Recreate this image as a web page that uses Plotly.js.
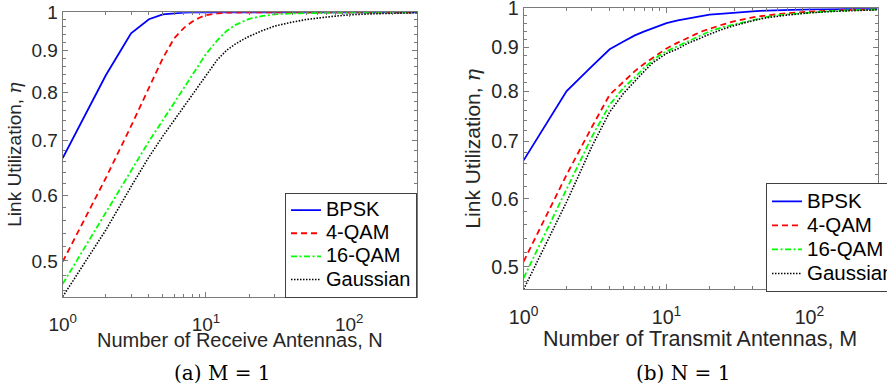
<!DOCTYPE html>
<html>
<head>
<meta charset="utf-8">
<script src="https://cdn.plot.ly/plotly-3.0.1.min.js"></script>
<style>
  html, body { margin: 0; padding: 0; overflow: hidden; background: #fff; }
  #wrap { width: 887px; height: 392px; overflow: hidden; }
  #chart { width: 900px; height: 392px; }
</style>
</head>
<body>
<div id="wrap"><div id="chart"></div></div>
<script>
// ---- data ----
const antennas = [1,2,3,4,5,6,7,8,9,10,12,14,16,18,20,25,30,40,50,70,100,150,200,300];
const seriesNames = ['BPSK','4-QAM','16-QAM','Gaussian'];

// (a) M = 1, x = N
const bpskA   = [0.666,0.839,0.943,0.981,0.994,0.998,0.9995,1,1,1,1,1,1,1,1,1,1,1,1,1,1,1,1,1];
const qam4A   = [0.499,0.630,0.728,0.812,0.880,0.930,0.957,0.974,0.985,0.992,0.997,0.999,1,1,1,1,1,1,1,1,1,1,1,1];
const qam16A  = [0.469,0.572,0.645,0.698,0.740,0.777,0.808,0.838,0.866,0.890,0.925,0.950,0.965,0.975,0.982,0.990,0.994,0.997,0.998,0.999,0.9995,1,1,1];
const gaussA  = [0.4525,0.545,0.615,0.668,0.708,0.740,0.768,0.793,0.817,0.840,0.876,0.900,0.915,0.926,0.935,0.951,0.962,0.973,0.980,0.987,0.993,0.996,0.998,0.999];

// (b) N = 1, x = M
const bpskB   = [0.665,0.801,0.856,0.896,0.915,0.930,0.940,0.948,0.955,0.961,0.968,0.973,0.977,0.980,0.983,0.986,0.989,0.992,0.994,0.996,0.997,0.998,0.999,0.9995];
const qam4B   = [0.507,0.640,0.727,0.793,0.821,0.845,0.862,0.876,0.888,0.898,0.912,0.924,0.933,0.941,0.947,0.958,0.966,0.976,0.981,0.987,0.991,0.994,0.996,0.997];
const qam16B  = [0.485,0.616,0.708,0.772,0.808,0.831,0.853,0.869,0.882,0.891,0.904,0.915,0.925,0.933,0.940,0.951,0.958,0.970,0.977,0.984,0.989,0.993,0.995,0.997];
const gaussB  = [0.4706,0.595,0.690,0.757,0.796,0.823,0.845,0.864,0.876,0.886,0.897,0.910,0.918,0.926,0.933,0.946,0.955,0.967,0.975,0.982,0.988,0.992,0.994,0.996];

const yTickVals = [0.5,0.6,0.7,0.8,0.9,1];
const yTickText = ['0.5','0.6','0.7','0.8','0.9','1'];
const xTickVals = [1,10,100];
const xTickText = ['10<sup>0</sup>','10<sup>1</sup>','10<sup>2</sup>'];
const xTitleA = 'Number of Receive Antennas, N';
const xTitleB = 'Number of Transmit Antennas, M';
const yTitle  = 'Link Utilization, <span style="font-family:DejaVu Serif, serif"><i>η</i></span>';
const captionA = '(a) M = 1';
const captionB = '(b) N = 1';

// ---- styles ----
const colors = ['#0000ff','#ff0000','#00ff00','#000000'];
const dashes = ['solid','6px,4px','6px,2.5px,2px,2.5px','1.5px,1.5px'];
const widths = [1.8,1.8,1.8,1.6];

// minor ticks
const xMinor = [];
[1,10,100].forEach(d => { for (let k = 2; k <= 9; k++) { if (d*k <= 300) xMinor.push(d*k); } });
function yMinor(lo) {
  const out = [];
  for (let i = 0; i < 30; i++) {
    const v = Math.round((0.46 + 0.02*i)*100)/100;
    if (v >= 1) break;
    if (v < lo) continue;
    if (Math.round(v*100) % 10 !== 0) out.push(v);
  }
  return out;
}

const W = 900, H = 392;
const font = 'Liberation Sans, Arial, Helvetica, sans-serif';
const axisCol = '#7a7a7a';
const textCol = '#262626';

const setsA = [bpskA, qam4A, qam16A, gaussA];
const setsB = [bpskB, qam4B, qam16B, gaussB];
const legendName = (s, px) => '<span style="font-size:' + px + 'px">' + s + '</span>';
const traces = [];
setsA.forEach((ys, i) => traces.push({
  x: antennas, y: ys, type: 'scatter', mode: 'lines', name: legendName(seriesNames[i], 20),
  xaxis: 'x', yaxis: 'y', legend: 'legend',
  line: {color: colors[i], width: widths[i], dash: dashes[i]}
}));
setsB.forEach((ys, i) => traces.push({
  x: antennas, y: ys, type: 'scatter', mode: 'lines', name: legendName(seriesNames[i], 20.5),
  xaxis: 'x2', yaxis: 'y2', legend: 'legend2',
  line: {color: colors[i], width: widths[i], dash: dashes[i]}
}));

function xAxis(domain, anchor, fs) {
  return {
    type: 'log', domain: domain, range: [0, Math.log10(300)], anchor: anchor,
    tickmode: 'array', tickvals: xTickVals, ticktext: xTickText,
    ticks: 'inside', ticklen: 5, tickcolor: axisCol, tickwidth: 1,
    minor: {tickmode: 'array', tickvals: xMinor, ticks: 'inside', ticklen: 3, tickcolor: axisCol},
    showline: true, linecolor: axisCol, linewidth: 1, mirror: 'allticks',
    showgrid: false, zeroline: false,
    ticklabelstandoff: 10, ticklabeloverflow: 'allow',
    tickfont: {family: font, size: fs, color: textCol},
    automargin: false
  };
}
function yAxis(domain, range, anchor, lo, fs, tfs) {
  return {
    type: 'log', domain: domain, range: range, anchor: anchor,
    tickmode: 'array', tickvals: yTickVals, ticktext: yTickText,
    ticks: 'inside', ticklen: 5, tickcolor: axisCol, tickwidth: 1,
    minor: {tickmode: 'array', tickvals: yMinor(lo), ticks: 'inside', ticklen: 3, tickcolor: axisCol},
    showline: true, linecolor: axisCol, linewidth: 1, mirror: 'allticks',
    showgrid: false, zeroline: false, ticklabeloverflow: 'allow',
    tickfont: {family: font, size: fs, color: textCol},
    title: {text: yTitle, font: {family: font, size: tfs, color: textCol}, standoff: 4},
    automargin: false
  };
}

const legendCommon = {
  bgcolor: '#ffffff', bordercolor: '#404040', borderwidth: 1,
  itemwidth: 30, tracegroupgap: 0
};

const layout = {
  width: W, height: H,
  margin: {l: 0, r: 0, t: 0, b: 0},
  paper_bgcolor: '#ffffff', plot_bgcolor: '#ffffff',
  showlegend: true,
  xaxis:  xAxis([64/W, 426/W], 'y', 19),
  yaxis:  yAxis([1-296.7/H, 1-12.3/H], [Math.log10(0.4525), 0], 'x', 0.45, 19, 19),
  xaxis2: xAxis([534.3/W, 895.5/W], 'y2', 19.7),
  yaxis2: yAxis([1-289.3/H, 1-8.3/H], [Math.log10(0.4706), 0], 'x2', 0.47, 19.7, 21),
  legend:  Object.assign({x: 425.5/W, xanchor: 'right', y: 1-297.5/H, yanchor: 'bottom',
                          font: {family: font, size: 15.5, color: '#000'}}, legendCommon),
  legend2: Object.assign({x: 781.7/W, xanchor: 'left', y: 1-183.3/H, yanchor: 'top',
                          font: {family: font, size: 16.2, color: '#000'}}, legendCommon),
  annotations: [
    {text: xTitleA, xref: 'paper', yref: 'paper', x: 245/W, y: 1-340/H, showarrow: false,
     xanchor: 'center', yanchor: 'middle', font: {family: font, size: 20, color: textCol}},
    {text: xTitleB, xref: 'paper', yref: 'paper', x: 714/W, y: 1-339/H, showarrow: false,
     xanchor: 'center', yanchor: 'middle', font: {family: font, size: 21.5, color: textCol}},
    {text: captionA, xref: 'paper', yref: 'paper', x: 226.7/W, y: 1-373/H, showarrow: false,
     xanchor: 'center', yanchor: 'middle', font: {family: 'DejaVu Serif, serif', size: 20, color: '#000'}},
    {text: captionB, xref: 'paper', yref: 'paper', x: 696.5/W, y: 1-373/H, showarrow: false,
     xanchor: 'center', yanchor: 'middle', font: {family: 'DejaVu Serif, serif', size: 20, color: '#000'}}
  ]
};

Plotly.newPlot('chart', traces, layout, {displayModeBar: false, staticPlot: true});
</script>
</body>
</html>
